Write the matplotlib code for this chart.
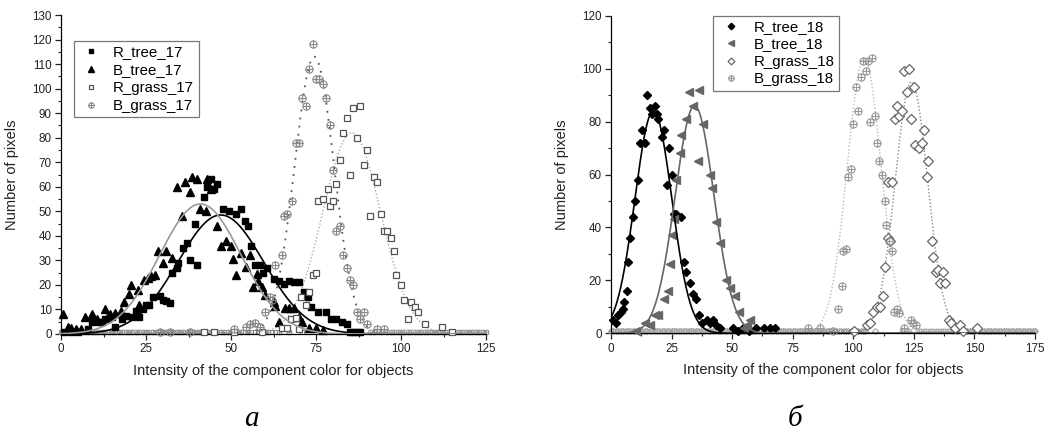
import numpy as np
import matplotlib
matplotlib.use("Agg")
import matplotlib.pyplot as plt
from matplotlib.path import Path
from matplotlib.ticker import MultipleLocator

plt.rcParams['font.family'] = ['Liberation Sans', 'DejaVu Sans']

# ---------------- Panel a (17) ----------------
R_tree_17_x = [1, 3, 5, 8, 9, 11, 12, 13, 15, 16, 18, 19, 21, 22, 23, 24, 25, 26, 27, 29, 30, 31, 32,
               32.5, 34, 34.5, 36, 37, 38, 39.5, 40, 42, 43, 44, 45, 46, 47.5, 49.5, 51.5, 53, 54, 55,
               56, 57, 58.5, 59.5, 60.5, 62.5, 64, 65.5, 67, 68.5, 70, 71.5, 72.5, 73.5, 75.5, 78, 79.5,
               81, 82.5, 84, 85, 86, 87, 88]
R_tree_17_y = [1, 1, 1, 2, 5, 5, 5, 6, 7, 3, 6, 7.5, 7, 9.5, 7, 10, 12, 12, 15, 15.5, 14, 13.5, 12.5,
               25, 27, 29, 35, 37, 30, 45, 28, 56, 60, 63, 59, 61, 51, 50, 49, 51, 46, 44,
               36, 28, 28, 25, 27, 22.5, 21.5, 20.5, 21.5, 21, 21, 17, 15, 11, 9, 9, 6,
               6, 5, 4, 1, 1, 1, 1]

B_tree_17_x = [0.5, 2, 3, 4.5, 6, 7, 9, 10.5, 13, 13.5, 14.5, 16, 17.5, 18.5, 20, 20.5, 22.5, 23, 24.5,
               25.5, 26.5, 27.5, 28.5, 30, 31, 32.5, 34, 35.5, 36.5, 38, 38.5, 40, 41, 42.5, 43, 44,
               46, 47, 48.5, 50, 50.5, 51.5, 53, 54.5, 55.5, 56.5, 57.5, 58, 59, 60, 62.5, 63, 64,
               66, 67, 68.5, 70, 71, 73, 75, 77]
B_tree_17_y = [8, 3, 2.5, 2, 2, 7, 8, 6, 10, 6.5, 8, 8.5, 9.5, 13, 16.5, 20, 18, 12, 22,
               23, 23.5, 24, 34, 29, 34, 31, 60, 48, 62, 58, 64, 63, 51, 50, 63, 59,
               44, 36, 38, 36, 30.5, 24, 33, 27.5, 32, 19, 24.5, 21.5, 19, 16, 13, 11.5, 5,
               10.5, 10.5, 10.5, 7, 5, 2.5, 2.5, 1.5]

R_grass_17_x = [42, 45, 51, 59, 65, 66.5, 67.5, 69, 70, 70.5, 72, 73, 74, 75, 75.5, 77, 78.5, 79, 80,
                81, 82, 83, 84, 85, 86, 87, 88, 89, 90, 91, 92, 93, 94, 95, 96, 97, 98, 98.5, 100,
                101, 102, 103, 104, 105, 107, 112, 115]
R_grass_17_y = [1, 1, 1, 1, 2.5, 2.5, 6, 6.5, 2, 15, 12, 17, 24, 25, 54, 55, 59, 52, 54,
                61, 71, 82, 88, 65, 92, 80, 93, 69, 75, 48, 64, 62, 49, 42, 42, 39, 34, 24, 20,
                14, 6, 13, 11, 9, 4, 3, 1]

B_grass_17_x = [29, 32, 38, 51, 54.5, 55.5, 57, 58.5, 60, 61.5, 62, 63, 65, 65.5, 66.5, 68, 69, 70,
                71, 72, 73, 74, 75, 76, 77, 78, 79, 80, 81, 82, 83, 84, 85, 86, 87, 88, 89, 90, 93, 95]
B_grass_17_y = [1, 1, 1, 2, 3, 4, 4.5, 3, 9, 15, 14, 28, 32, 48, 49, 54, 78, 78,
                96, 93, 108, 118, 104, 104, 102, 96, 85, 67, 42, 44, 32, 27, 22, 20, 9, 6, 9, 4, 2, 2]

# Gaussian fits (amplitude, centre, sigma)
fit_17 = {"R_tree_17": (48.5, 47.0, 12.6), "B_tree_17": (53.0, 41.0, 12.0),
          "R_grass_17": (82.0, 85.5, 8.5), "B_grass_17": (113.0, 74.5, 5.8)}

# ---------------- Panel б (18) ----------------
R_tree_18_x = [1, 2, 3, 4, 5, 5.5, 6.5, 7, 8, 9, 10, 11, 12, 13, 14, 15, 16, 17, 18, 19, 19.5, 21, 22,
               23, 24, 25, 26, 27, 29, 30, 31, 32.5, 34, 35, 36.5, 37.5, 39.5, 41, 42, 43.5, 45,
               50.5, 52.5, 54.5, 57, 60, 63, 65.5, 67.5]
R_tree_18_y = [5, 4, 7, 8, 9, 12, 16, 27, 36, 44, 50, 58, 72, 77, 72, 90, 85, 83, 86, 83, 81, 74, 77,
               56, 70, 60, 45, 45, 44, 27, 23, 19, 15, 13, 7, 4, 5, 4, 5, 3, 2,
               2, 1, 2, 1, 2, 2, 2, 2]

B_tree_18_x = [10.5, 14, 16, 18, 19.5, 22, 23.5, 24.5, 25, 26, 27, 28.5, 29, 31, 32, 34, 36, 36.5,
               38, 41, 41.5, 43.5, 45, 47.5, 49, 51, 53, 55, 56, 57.5]
B_tree_18_y = [1, 4, 3, 7, 7, 13, 16, 26, 37, 43, 58, 68, 75, 81, 91, 86, 65, 92,
               79, 60, 55, 42, 34, 20, 17, 14, 8, 2, 3, 5]

R_grass_18_x = [100.5, 105.5, 107, 108.3, 109.6, 111, 112.4, 113, 114.5, 115, 114.5, 115.8, 117.2, 118,
                118.7, 120, 121, 122.3, 123, 124, 125, 125.6, 127, 128.2, 129, 130.3, 131, 132.3,
                133, 134, 135, 135.8, 137, 137.8, 139.3, 140.2, 142, 144, 145.4, 151]
R_grass_18_y = [1, 3, 4, 8, 10, 10, 14, 25, 36, 35, 57, 57, 81, 86,
                82, 84, 99, 91, 100, 81, 93, 71, 70, 72, 77, 59, 65, 35,
                29, 23, 24, 19, 23, 19, 5, 4, 2, 3, 1, 2]

B_grass_18_x = [81.4, 86.3, 91.8, 93.8, 95.2, 95.9, 97, 98, 99, 100, 101, 102, 103.2, 104.1, 105.2,
                106.2, 106.9, 107.9, 109, 109.6, 110.7, 111.7, 113, 113.7, 114.7, 115.8, 117, 118,
                119, 121, 124, 124.8, 126]
B_grass_18_y = [2, 2, 1, 9, 18, 31, 32, 59, 62, 79, 93, 84, 97, 103, 99,
                103, 80, 104, 82, 72, 65, 60, 50, 41, 35, 31, 8, 9,
                7.5, 2, 5, 4, 3]

fit_18 = {"R_tree_18": (84.0, 17.5, 7.6), "B_tree_18": (86.0, 34.5, 8.0),
          "R_grass_18": (95.0, 124.0, 6.7), "B_grass_18": (104.0, 104.5, 7.0)}

# empty intensity bins drawn as a row of markers on the baseline
baseline_count = 1
bins_17 = list(range(0, 126))
bins_18 = list(range(0, 176))

# ---------------- drawing ----------------
circ = Path.unit_circle()
cross = Path([(-1, 0), (1, 0), (0, -1), (0, 1)],
             [Path.MOVETO, Path.LINETO, Path.MOVETO, Path.LINETO])
oplus = Path.make_compound_path(circ, cross)

fig = plt.figure(figsize=(10.57, 4.32), dpi=100)
axL = fig.add_axes([61 / 1057, 1 - 334 / 432, 425 / 1057, 319 / 432])
axR = fig.add_axes([611 / 1057, 1 - 333.3 / 432, 424 / 1057, 317.6 / 432])


def gauss(x, a, c, s):
    return a * np.exp(-(x - c) ** 2 / (2 * s ** 2))


def style_axes(ax, xmax, ymax, ymaj, ymin):
    for sp in ['top', 'right']:
        ax.spines[sp].set_visible(False)
    for sp in ['left', 'bottom']:
        ax.spines[sp].set_linewidth(0.9)
    ax.set_xlim(0, xmax)
    ax.set_ylim(0, ymax)
    ax.xaxis.set_major_locator(MultipleLocator(25))
    ax.xaxis.set_minor_locator(MultipleLocator(12.5))
    ax.yaxis.set_major_locator(MultipleLocator(ymaj))
    ax.yaxis.set_minor_locator(MultipleLocator(ymin))
    ax.tick_params(which='major', direction='out', length=4.2, width=0.9, labelsize=8.4, pad=2.5,
                   colors='#222222')
    ax.tick_params(which='minor', direction='out', length=2.5, width=0.8, colors='#222222')
    ax.set_xlabel('Intensity of the component color for objects', fontsize=10.5, color='#222222')
    ax.set_ylabel('Number of pixels', fontsize=10.5, color='#222222')
    ax.xaxis.set_label_coords(0.5, -0.095)
    ax.yaxis.set_label_coords(-0.098, 0.5)


def baseline(ax, bins, xs, marker, color, ms):
    occupied = set(int(round(v)) for v in xs)
    bx = [b for b in bins if b not in occupied]
    ax.plot(bx, [baseline_count] * len(bx), linestyle='none', marker=marker, ms=ms,
            mfc='none', mec=color, mew=0.6, clip_on=False, zorder=2)


# ---- panel a ----
xf = np.linspace(0, 125, 600)
baseline(axL, bins_17, R_grass_17_x, 's', '#777777', 3.2)
baseline(axL, bins_17, B_grass_17_x, oplus, '#999999', 3.6)

axL.plot(xf, gauss(xf, *fit_17["R_grass_17"]), color='#aaaaaa', lw=1.0, ls=(0, (1, 1.5)), zorder=1)
axL.plot(xf, gauss(xf, *fit_17["B_grass_17"]), color='#555555', lw=1.3, ls=(0, (1, 3.5)), zorder=1)

hRt, = axL.plot(R_tree_17_x, R_tree_17_y, 's', color='black', ms=4.6, ls='none', clip_on=False, zorder=3)
hBt, = axL.plot(B_tree_17_x, B_tree_17_y, '^', color='black', ms=5.4, ls='none', clip_on=False, zorder=3)
hRg, = axL.plot(R_grass_17_x, R_grass_17_y, 's', mfc='white', mec='#555555', mew=0.9, ms=4.6,
                ls='none', clip_on=False, zorder=3)
hBg, = axL.plot(B_grass_17_x, B_grass_17_y, ls='none', marker=oplus, mfc='none', mec='#888888',
                mew=0.8, ms=5.2, clip_on=False, zorder=3)

axL.plot(xf, gauss(xf, *fit_17["R_tree_17"]), color='black', lw=1.2, zorder=4)
axL.plot(xf, gauss(xf, *fit_17["B_tree_17"]), color='#999999', lw=1.2, zorder=4)

style_axes(axL, 125, 130, 10, 5)
legL = axL.legend([hRt, hBt, hRg, hBg], ['R_tree_17', 'B_tree_17', 'R_grass_17', 'B_grass_17'],
                  loc='upper left', bbox_to_anchor=(13 / 425, 1 - 26 / 319), fontsize=10.8,
                  frameon=True, fancybox=False, edgecolor='#555555', markerscale=0.75,
                  handlelength=1.7, handletextpad=0.6, labelspacing=0.25, borderpad=0.3,
                  borderaxespad=0.0)
legL.get_frame().set_linewidth(0.9)

# ---- panel б ----
xf2 = np.linspace(0, 175, 800)
baseline(axR, bins_18, R_grass_18_x, 'D', '#888888', 3.0)
baseline(axR, bins_18, B_grass_18_x, oplus, '#aaaaaa', 3.6)

axR.plot(xf2, gauss(xf2, *fit_18["R_grass_18"]), color='#888888', lw=1.0, ls=(0, (1, 1.5)), zorder=1)
axR.plot(xf2, gauss(xf2, *fit_18["B_grass_18"]), color='#bbbbbb', lw=1.0, ls=(0, (1, 1.5)), zorder=1)

h1, = axR.plot(R_tree_18_x, R_tree_18_y, 'D', color='black', ms=4.4, ls='none', clip_on=False, zorder=3)
h2, = axR.plot(B_tree_18_x, B_tree_18_y, '<', color='#666666', ms=5.4, ls='none', clip_on=False, zorder=3)
h3, = axR.plot(R_grass_18_x, R_grass_18_y, 'D', mfc='white', mec='#666666', mew=0.9, ms=4.6,
               ls='none', clip_on=False, zorder=3)
h4, = axR.plot(B_grass_18_x, B_grass_18_y, ls='none', marker=oplus, mfc='none', mec='#999999',
               mew=0.8, ms=5.2, clip_on=False, zorder=3)

axR.plot(xf2, gauss(xf2, *fit_18["R_tree_18"]), color='black', lw=1.2, zorder=4)
axR.plot(xf2, gauss(xf2, *fit_18["B_tree_18"]), color='#666666', lw=1.2, zorder=4)

style_axes(axR, 175, 120, 20, 10)
legR = axR.legend([h1, h2, h3, h4], ['R_tree_18', 'B_tree_18', 'R_grass_18', 'B_grass_18'],
                  loc='upper left', bbox_to_anchor=(102 / 424, 1.0), fontsize=10.8,
                  frameon=True, fancybox=False, edgecolor='#555555', markerscale=0.75,
                  handlelength=1.8, handletextpad=0.6, labelspacing=0.22, borderpad=0.3,
                  borderaxespad=0.0)
legR.get_frame().set_linewidth(0.9)

# captions
fig.text(251 / 1057, 1 - 426 / 432, 'a', fontsize=21, style='italic',
         family=['Liberation Serif', 'DejaVu Serif'], ha='center', va='baseline')
fig.text(795 / 1057, 1 - 426 / 432, 'б', fontsize=21, style='italic',
         family=['Liberation Serif', 'DejaVu Serif'], ha='center', va='baseline')

fig.savefig('out.png', dpi=100)
